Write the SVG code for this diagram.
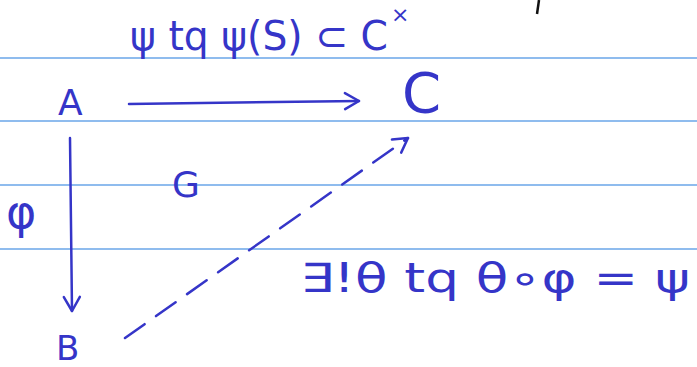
<svg xmlns="http://www.w3.org/2000/svg" width="697" height="367" viewBox="0 0 697 367">
<style>
.rule{stroke:#6aa6e8;stroke-width:1.3}
.ink{fill:#3535c8;font-family:"DejaVu Sans",sans-serif}
.edge{stroke:#3535c8;stroke-width:2.5;fill:none;stroke-linecap:round}
</style>
<defs>
<marker id="arr" viewBox="0 0 20 20" refX="18" refY="10" markerWidth="20" markerHeight="20" markerUnits="userSpaceOnUse" orient="auto">
<path d="M4 2 L18 10 L4 18" fill="none" stroke="#3535c8" stroke-width="2.5" stroke-linecap="round" stroke-linejoin="round"/>
</marker>
</defs>
<rect width="697" height="367" fill="#ffffff"/>
<g id="rules">
<line class="rule" x1="0" y1="58" x2="697" y2="58"/>
<line class="rule" x1="0" y1="121" x2="697" y2="121"/>
<line class="rule" x1="0" y1="185" x2="697" y2="185"/>
<line class="rule" x1="0" y1="249" x2="697" y2="249"/>
</g>
<line x1="539" y1="0" x2="537" y2="14" stroke="#111" stroke-width="2.5"/>
<g id="connectors">
<line class="edge" x1="129" y1="104" x2="359" y2="101" marker-end="url(#arr)"/>
<line class="edge" x1="70" y1="138" x2="72" y2="311" marker-end="url(#arr)"/>
<line class="edge" x1="125" y1="338" x2="408" y2="138" stroke-dasharray="24 14" marker-end="url(#arr)"/>
</g>
<g id="node-A"><text class="ink" x="58" y="115" font-size="36">A</text></g>
<g id="node-C"><text class="ink" x="402" y="112" font-size="56">C</text></g>
<g id="node-B"><text class="ink" x="56" y="360" font-size="34">B</text></g>
<g id="label-phi"><text class="ink" x="6" y="228" font-size="46">φ</text></g>
<g id="label-G"><text class="ink" x="172" y="197" font-size="36">G</text></g>
<g id="label-top"><text class="ink" x="130" y="50" font-size="40" textLength="258" lengthAdjust="spacingAndGlyphs">ψ tq ψ(S) ⊂ C</text><text class="ink" x="391" y="22" font-size="22">×</text></g>
<g id="label-bottom"><text class="ink" x="300" y="292" font-size="40" textLength="390" lengthAdjust="spacingAndGlyphs">∃!θ tq  θ∘φ = ψ</text></g>
</svg>
